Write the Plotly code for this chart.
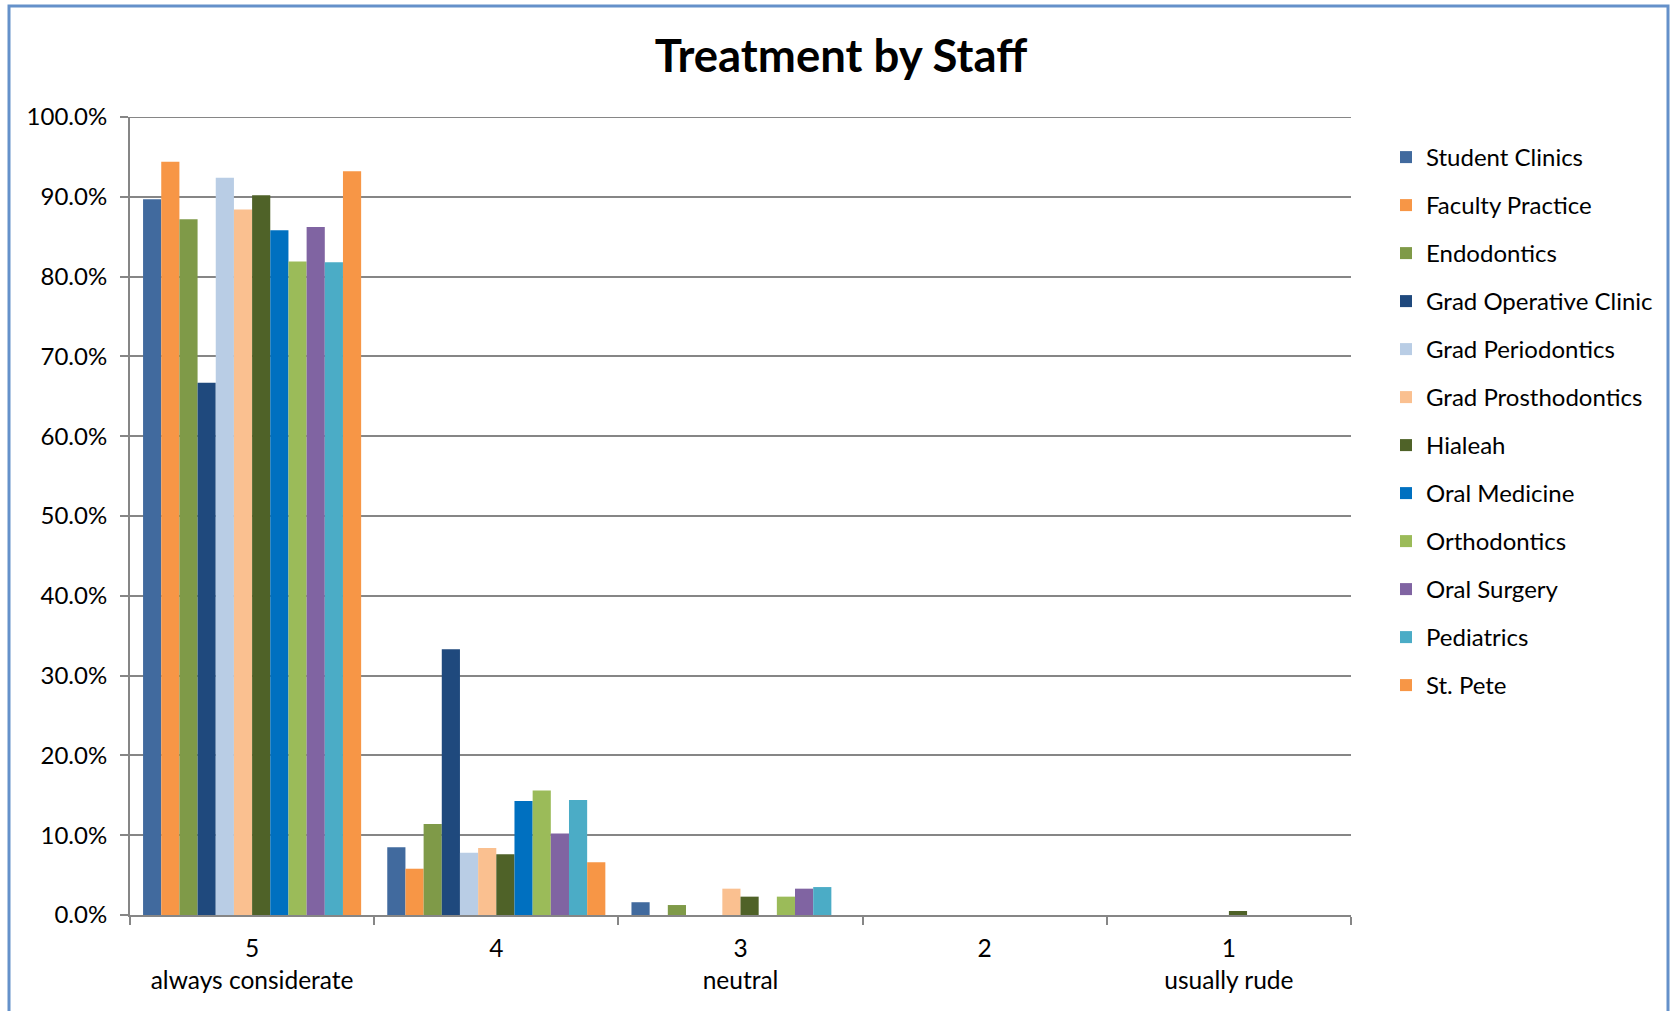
import plotly.graph_objects as go

# Rating categories (x axis) and their labels
categories = ["5", "4", "3", "2", "1"]
category_labels = ["5<br>always considerate", "4", "3<br>neutral", "2", "1<br>usually rude"]

# Share of responses per clinic, in fraction of respondents (order matches categories)
student_clinics = [0.897, 0.085, 0.016, 0.0, 0.0]
faculty_practice = [0.944, 0.058, 0.0, 0.0, 0.0]
endodontics = [0.872, 0.114, 0.0125, 0.0, 0.0]
grad_operative_clinic = [0.667, 0.333, 0.0, 0.0, 0.0]
grad_periodontics = [0.924, 0.078, 0.0, 0.0, 0.0]
grad_prosthodontics = [0.884, 0.084, 0.033, 0.0, 0.0]
hialeah = [0.902, 0.076, 0.023, 0.0, 0.005]
oral_medicine = [0.858, 0.143, 0.0, 0.0, 0.0]
orthodontics = [0.819, 0.156, 0.023, 0.0, 0.0]
oral_surgery = [0.862, 0.102, 0.033, 0.0, 0.0]
pediatrics = [0.818, 0.144, 0.035, 0.0, 0.0]
st_pete = [0.932, 0.066, 0.0, 0.0, 0.0]

series_names = [
    "Student Clinics", "Faculty Practice", "Endodontics", "Grad Operative Clinic",
    "Grad Periodontics", "Grad Prosthodontics", "Hialeah", "Oral Medicine",
    "Orthodontics", "Oral Surgery", "Pediatrics", "St. Pete",
]
series_values = [
    student_clinics, faculty_practice, endodontics, grad_operative_clinic,
    grad_periodontics, grad_prosthodontics, hialeah, oral_medicine,
    orthodontics, oral_surgery, pediatrics, st_pete,
]
series_colors = [
    "#416A9E", "#F79646", "#7F9A48", "#1F497D",
    "#B9CDE5", "#FAC090", "#4F6228", "#0070C0",
    "#9BBB59", "#8064A2", "#4BACC6", "#F79646",
]

FONT = "Lato, 'Open Sans', sans-serif"
GRID = "#868686"

fig = go.Figure()
for name, vals, color in zip(series_names, series_values, series_colors):
    fig.add_trace(go.Bar(
        name=name,
        x=categories,
        y=vals,
        marker=dict(color=color, line=dict(width=0)),
        legendgroup=name,
        hovertemplate="%{y:.1%}<extra>" + name + "</extra>",
    ))

W, H = 1671, 1011
ML, MR, MT, MB = 130, 320, 117, 96
pw = W - ML - MR
ph = H - MT - MB


def px_x(x):
    return (x - ML) / pw


def px_y(y):
    return (H - MB - y) / ph


fig.update_layout(
    width=W,
    height=H,
    margin=dict(l=ML, r=MR, t=MT, b=MB, autoexpand=False),
    paper_bgcolor="white",
    plot_bgcolor="white",
    barmode="group",
    bargap=0.107,
    bargroupgap=0,
    font=dict(family=FONT, size=24, color="black"),
    title=dict(
        text="<b>Treatment by Staff</b>",
        x=841 / W,
        xanchor="center",
        y=1 - 56 / H,
        yanchor="middle",
        font=dict(family=FONT, size=45.5, color="black"),
    ),
    legend=dict(
        x=px_x(1386),
        xanchor="left",
        y=px_y(135),
        yanchor="top",
        font=dict(family=FONT, size=24, color="black"),
        tracegroupgap=13.8,
        itemwidth=30,
        bgcolor="rgba(0,0,0,0)",
        itemclick=False,
    ),
    xaxis=dict(
        type="category",
        tickmode="array",
        tickvals=categories,
        ticktext=category_labels,
        tickson="boundaries",
        ticks="outside",
        ticklen=8,
        tickwidth=2,
        tickcolor=GRID,
        ticklabelstandoff=11,
        showline=True,
        linecolor=GRID,
        linewidth=2,
        showgrid=False,
        tickfont=dict(family=FONT, size=24.5, color="black"),
        fixedrange=True,
    ),
    yaxis=dict(
        range=[0, 1.0],
        tickmode="linear",
        tick0=0,
        dtick=0.1,
        tickformat=".1%",
        ticks="outside",
        ticklen=8,
        tickwidth=2,
        tickcolor=GRID,
        ticklabelstandoff=8,
        showline=True,
        linecolor=GRID,
        linewidth=2,
        showgrid=True,
        gridcolor=GRID,
        gridwidth=2,
        zeroline=False,
        tickfont=dict(family=FONT, size=24, color="black"),
        fixedrange=True,
    ),
    shapes=[
        # gridline at the top of the value axis (100%)
        dict(
            type="line", xref="paper", yref="y", layer="below",
            x0=0, x1=1, y0=1.0, y1=1.0,
            line=dict(color=GRID, width=2),
        ),
        # outer chart border
        dict(
            type="rect", xref="paper", yref="paper", layer="above",
            x0=px_x(9), x1=px_x(1668), y0=px_y(H + 10), y1=px_y(6),
            line=dict(color="#6591CA", width=3),
            fillcolor="rgba(0,0,0,0)",
        ),
    ],
)

fig.write_html("out.html")
